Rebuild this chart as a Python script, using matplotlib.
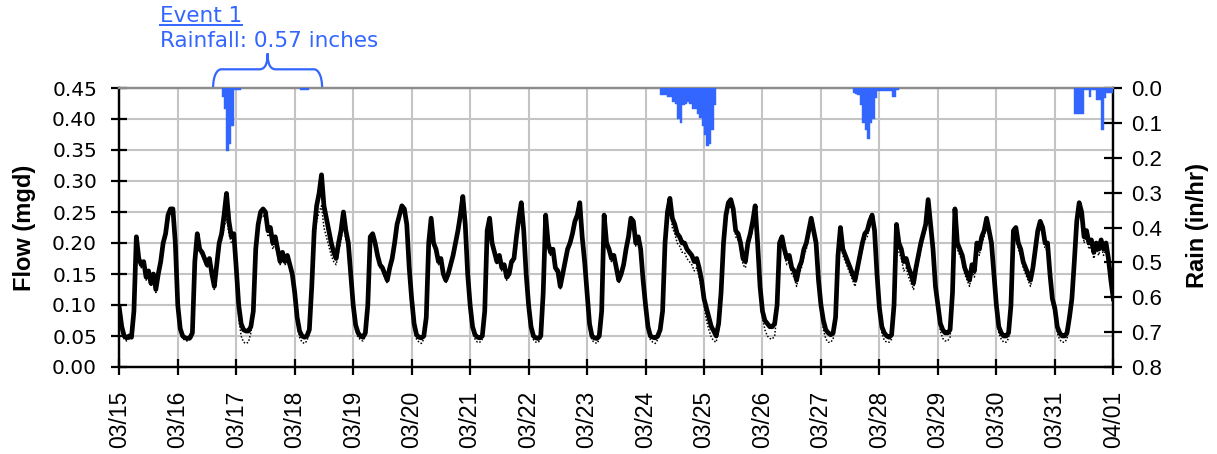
import matplotlib
matplotlib.use("Agg")
import matplotlib.pyplot as plt
import matplotlib.dates as mdates
import numpy as np
import pandas as pd
from matplotlib.path import Path
from matplotlib.patches import PathPatch
from matplotlib.lines import Line2D
from matplotlib import transforms

BLUE = "#3366ff"

period_start = "2021-03-15 00:00"
period_end = "2021-04-01 00:00"
day_labels = ["03/15", "03/16", "03/17", "03/18", "03/19", "03/20", "03/21",
              "03/22", "03/23", "03/24", "03/25", "03/26", "03/27", "03/28",
              "03/29", "03/30", "03/31", "04/01"]

# Hourly metered flow (mgd), one row per day, hours 0..23
flow_metered = [
    [0.095, 0.065, 0.05, 0.047, 0.05, 0.048, 0.09, 0.21, 0.175, 0.165, 0.17, 0.145, 0.155, 0.135, 0.15, 0.125, 0.15, 0.17, 0.2, 0.215, 0.245, 0.255, 0.255, 0.2],      # 03/15
    [0.1, 0.062, 0.05, 0.047, 0.046, 0.047, 0.055, 0.17, 0.215, 0.19, 0.185, 0.175, 0.165, 0.175, 0.15, 0.13, 0.165, 0.2, 0.215, 0.245, 0.28, 0.235, 0.21, 0.215],      # 03/16
    [0.16, 0.1, 0.07, 0.06, 0.058, 0.058, 0.065, 0.09, 0.19, 0.23, 0.25, 0.255, 0.25, 0.22, 0.225, 0.2, 0.21, 0.19, 0.17, 0.185, 0.17, 0.18, 0.165, 0.15],            # 03/17
    [0.12, 0.08, 0.058, 0.05, 0.048, 0.05, 0.06, 0.13, 0.22, 0.26, 0.28, 0.31, 0.26, 0.24, 0.22, 0.2, 0.185, 0.175, 0.2, 0.22, 0.25, 0.22, 0.2, 0.15],               # 03/18
    [0.1, 0.068, 0.055, 0.05, 0.048, 0.055, 0.1, 0.21, 0.215, 0.2, 0.18, 0.165, 0.16, 0.15, 0.14, 0.16, 0.175, 0.2, 0.23, 0.245, 0.26, 0.255, 0.23, 0.16],            # 03/19
    [0.11, 0.07, 0.052, 0.048, 0.047, 0.05, 0.08, 0.2, 0.24, 0.2, 0.19, 0.17, 0.175, 0.15, 0.14, 0.15, 0.165, 0.18, 0.2, 0.22, 0.245, 0.275, 0.23, 0.15],             # 03/20
    [0.1, 0.065, 0.052, 0.048, 0.047, 0.05, 0.09, 0.22, 0.24, 0.2, 0.185, 0.17, 0.18, 0.16, 0.165, 0.145, 0.15, 0.17, 0.175, 0.21, 0.24, 0.265, 0.22, 0.15],          # 03/21
    [0.1, 0.065, 0.05, 0.047, 0.046, 0.05, 0.12, 0.245, 0.2, 0.185, 0.19, 0.16, 0.155, 0.13, 0.15, 0.17, 0.19, 0.2, 0.215, 0.235, 0.245, 0.265, 0.21, 0.17],         # 03/22
    [0.12, 0.07, 0.05, 0.047, 0.046, 0.05, 0.09, 0.245, 0.2, 0.19, 0.175, 0.18, 0.16, 0.14, 0.15, 0.165, 0.19, 0.21, 0.24, 0.235, 0.2, 0.21, 0.19, 0.14],            # 03/23
    [0.1, 0.065, 0.05, 0.048, 0.047, 0.05, 0.06, 0.09, 0.2, 0.25, 0.272, 0.24, 0.23, 0.215, 0.21, 0.2, 0.2, 0.19, 0.185, 0.18, 0.17, 0.175, 0.16, 0.14],             # 03/24
    [0.11, 0.095, 0.08, 0.065, 0.058, 0.05, 0.07, 0.12, 0.2, 0.245, 0.265, 0.27, 0.255, 0.22, 0.215, 0.2, 0.175, 0.17, 0.2, 0.215, 0.235, 0.26, 0.2, 0.13],          # 03/25
    [0.09, 0.075, 0.07, 0.065, 0.065, 0.07, 0.1, 0.2, 0.21, 0.19, 0.175, 0.18, 0.16, 0.155, 0.14, 0.16, 0.17, 0.19, 0.2, 0.22, 0.24, 0.22, 0.2, 0.14],               # 03/26
    [0.1, 0.075, 0.06, 0.055, 0.052, 0.055, 0.08, 0.18, 0.225, 0.19, 0.18, 0.17, 0.16, 0.15, 0.14, 0.16, 0.18, 0.2, 0.215, 0.22, 0.235, 0.245, 0.22, 0.15],          # 03/27
    [0.095, 0.065, 0.055, 0.05, 0.048, 0.052, 0.1, 0.23, 0.2, 0.19, 0.17, 0.175, 0.16, 0.15, 0.135, 0.16, 0.18, 0.2, 0.215, 0.23, 0.27, 0.23, 0.19, 0.13],           # 03/28
    [0.1, 0.07, 0.06, 0.055, 0.055, 0.06, 0.12, 0.255, 0.2, 0.19, 0.18, 0.16, 0.15, 0.14, 0.165, 0.155, 0.2, 0.19, 0.21, 0.22, 0.24, 0.22, 0.2, 0.15],              # 03/29
    [0.1, 0.065, 0.055, 0.05, 0.05, 0.055, 0.1, 0.22, 0.225, 0.2, 0.19, 0.17, 0.16, 0.15, 0.14, 0.16, 0.19, 0.22, 0.235, 0.225, 0.2, 0.2, 0.15, 0.11],               # 03/30
    [0.095, 0.065, 0.055, 0.05, 0.05, 0.055, 0.08, 0.11, 0.17, 0.235, 0.265, 0.25, 0.21, 0.22, 0.2, 0.205, 0.185, 0.2, 0.19, 0.205, 0.19, 0.2, 0.175, 0.14],        # 03/31
]
flow_metered_final = 0.11   # 04/01 00:00

# Hourly dry-weather (baseline) flow (mgd), one row per day
flow_baseline = [
    [0.09, 0.06, 0.045, 0.042, 0.045, 0.045, 0.085, 0.2, 0.17, 0.16, 0.165, 0.14, 0.15, 0.13, 0.145, 0.12, 0.145, 0.165, 0.195, 0.21, 0.235, 0.25, 0.245, 0.19],
    [0.095, 0.058, 0.046, 0.043, 0.042, 0.044, 0.05, 0.165, 0.21, 0.185, 0.18, 0.17, 0.16, 0.17, 0.145, 0.125, 0.16, 0.195, 0.205, 0.225, 0.24, 0.215, 0.2, 0.2],
    [0.14, 0.08, 0.05, 0.04, 0.038, 0.04, 0.055, 0.085, 0.18, 0.22, 0.24, 0.245, 0.24, 0.21, 0.215, 0.19, 0.2, 0.18, 0.165, 0.175, 0.165, 0.17, 0.16, 0.14],
    [0.11, 0.07, 0.048, 0.04, 0.038, 0.042, 0.055, 0.12, 0.2, 0.235, 0.25, 0.26, 0.225, 0.21, 0.195, 0.18, 0.17, 0.165, 0.185, 0.205, 0.23, 0.205, 0.19, 0.14],
    [0.095, 0.06, 0.048, 0.044, 0.042, 0.05, 0.095, 0.205, 0.21, 0.195, 0.175, 0.16, 0.155, 0.145, 0.135, 0.155, 0.17, 0.195, 0.225, 0.24, 0.255, 0.25, 0.225, 0.15],
    [0.1, 0.06, 0.045, 0.04, 0.038, 0.045, 0.075, 0.195, 0.235, 0.195, 0.185, 0.165, 0.17, 0.145, 0.135, 0.145, 0.16, 0.175, 0.195, 0.215, 0.24, 0.265, 0.225, 0.14],
    [0.095, 0.058, 0.045, 0.04, 0.04, 0.045, 0.085, 0.215, 0.235, 0.195, 0.18, 0.165, 0.175, 0.155, 0.16, 0.14, 0.145, 0.165, 0.17, 0.205, 0.235, 0.26, 0.215, 0.145],
    [0.095, 0.058, 0.044, 0.04, 0.04, 0.045, 0.115, 0.24, 0.195, 0.18, 0.185, 0.155, 0.15, 0.125, 0.145, 0.165, 0.185, 0.195, 0.21, 0.23, 0.24, 0.26, 0.205, 0.165],
    [0.11, 0.06, 0.043, 0.04, 0.038, 0.044, 0.085, 0.24, 0.195, 0.185, 0.17, 0.175, 0.155, 0.135, 0.145, 0.16, 0.185, 0.205, 0.235, 0.23, 0.195, 0.205, 0.185, 0.135],
    [0.09, 0.058, 0.044, 0.04, 0.038, 0.044, 0.055, 0.085, 0.19, 0.24, 0.26, 0.225, 0.215, 0.2, 0.195, 0.185, 0.185, 0.175, 0.17, 0.165, 0.155, 0.16, 0.145, 0.125],
    [0.1, 0.075, 0.06, 0.048, 0.042, 0.04, 0.06, 0.11, 0.19, 0.235, 0.255, 0.26, 0.245, 0.21, 0.205, 0.19, 0.165, 0.16, 0.19, 0.205, 0.225, 0.25, 0.19, 0.12],
    [0.08, 0.06, 0.05, 0.046, 0.045, 0.05, 0.09, 0.19, 0.2, 0.18, 0.165, 0.17, 0.15, 0.145, 0.13, 0.15, 0.16, 0.18, 0.19, 0.21, 0.23, 0.21, 0.19, 0.13],
    [0.09, 0.06, 0.045, 0.04, 0.04, 0.045, 0.075, 0.17, 0.215, 0.18, 0.17, 0.16, 0.15, 0.14, 0.13, 0.15, 0.17, 0.19, 0.205, 0.21, 0.225, 0.235, 0.21, 0.14],
    [0.085, 0.055, 0.043, 0.04, 0.04, 0.045, 0.09, 0.22, 0.185, 0.175, 0.155, 0.16, 0.145, 0.135, 0.125, 0.15, 0.17, 0.19, 0.205, 0.22, 0.26, 0.22, 0.18, 0.12],
    [0.09, 0.058, 0.046, 0.042, 0.042, 0.048, 0.11, 0.245, 0.19, 0.18, 0.17, 0.15, 0.14, 0.13, 0.155, 0.145, 0.19, 0.18, 0.2, 0.21, 0.23, 0.21, 0.19, 0.14],
    [0.09, 0.055, 0.045, 0.04, 0.04, 0.046, 0.09, 0.21, 0.215, 0.19, 0.18, 0.16, 0.15, 0.14, 0.13, 0.15, 0.18, 0.21, 0.225, 0.215, 0.19, 0.19, 0.14, 0.1],
    [0.085, 0.055, 0.044, 0.04, 0.04, 0.045, 0.07, 0.1, 0.16, 0.225, 0.255, 0.24, 0.2, 0.21, 0.19, 0.195, 0.175, 0.19, 0.18, 0.195, 0.18, 0.19, 0.165, 0.13],
]
flow_baseline_final = 0.10

# Hourly rainfall intensity (in/hr), one block per storm
rain_a_start = "2021-03-16 18:00"
rain_a = [0.025, 0.06, 0.18, 0.16, 0.11, 0.005, 0.005, 0.005]
rain_b_start = "2021-03-18 02:00"
rain_b = [0.005, 0.005, 0.005, 0.005]
rain_c_start = "2021-03-24 06:00"
rain_c = [0.02, 0.02, 0.02, 0.025, 0.025, 0.04, 0.045, 0.09, 0.1, 0.05, 0.045, 0.04,
          0.045, 0.06, 0.06, 0.075, 0.085, 0.11, 0.135, 0.165, 0.16, 0.12, 0.05]
rain_d_start = "2021-03-27 13:00"
rain_d = [0.015, 0.017, 0.02, 0.05, 0.1, 0.12, 0.145, 0.1, 0.09, 0.03, 0.01, 0.01,
          0.01, 0.008, 0.01, 0.01, 0.025, 0.025, 0.005]
rain_e_start = "2021-03-31 08:00"
rain_e = [0.075, 0.075, 0.075, 0.075, 0.005, 0.005, 0.025, 0.005, 0.005, 0.035,
          0.035, 0.12, 0.03, 0.015, 0.015, 0.015]

# ---------------------------------------------------------------------------
t0 = pd.Timestamp(period_start)
t1 = pd.Timestamp(period_end)
n_days = len(flow_metered)
times = pd.date_range(t0, periods=n_days * 24 + 1, freq="h")
metered = np.concatenate([np.array(r) for r in flow_metered] + [[flow_metered_final]])
baseline = np.concatenate([np.array(r) for r in flow_baseline] + [[flow_baseline_final]])

W, H = 1217, 454
fig = plt.figure(figsize=(W / 100, H / 100), dpi=100)
x0, x1, ytop, ybot = 119.3, 1113.3, 88, 367
ax = fig.add_axes([x0 / W, 1 - ybot / H, (x1 - x0) / W, (ybot - ytop) / H])

ax.plot(times, metered, color="black", lw=3.4, solid_joinstyle="round", zorder=3)
ax.plot(times, baseline, color="black", lw=1.1, linestyle=(0, (1, 1.2)), zorder=4)

ax.set_xlim(t0, t1)
ax.set_ylim(0, 0.45)
day_ticks = pd.date_range(t0, t1, freq="D")
ax.set_xticks(day_ticks)
ax.set_xticklabels(day_labels, rotation=90, fontsize=16.5, family="Liberation Sans")
ax.set_yticks(np.arange(0, 0.4501, 0.05))
ax.yaxis.set_major_formatter(matplotlib.ticker.FormatStrFormatter("%.2f"))
for lab in ax.get_yticklabels():
    lab.set_fontsize(14.5)
    lab.set_family("DejaVu Sans")
ax.grid(True, color="#c4c4c4", lw=1.5)
ax.set_axisbelow(True)
ax.tick_params(axis="y", direction="inout", length=12, width=1.6, pad=10)
ax.tick_params(axis="x", direction="inout", length=12, width=1.6, pad=11)

# Rainfall hyetograph hanging from the top on an inverted secondary axis
ax2 = ax.twinx()
for start, rates in [(rain_a_start, rain_a), (rain_b_start, rain_b),
                     (rain_c_start, rain_c), (rain_d_start, rain_d),
                     (rain_e_start, rain_e)]:
    bt = pd.date_range(pd.Timestamp(start), periods=len(rates), freq="h")
    ax2.bar(bt, rates, width=1 / 24, align="edge", color=BLUE, edgecolor=BLUE,
            linewidth=0.3, zorder=3)
ax2.set_ylim(0.8, 0)
ax2.set_yticks(np.arange(0, 0.801, 0.1))
ax2.yaxis.set_major_formatter(matplotlib.ticker.FormatStrFormatter("%.1f"))
for lab in ax2.get_yticklabels():
    lab.set_fontsize(16)
    lab.set_family("Liberation Sans")
ax2.tick_params(axis="y", direction="inout", length=13, width=1.6, pad=6)
ax2.set_xlim(t0, t1)

for a in (ax, ax2):
    a.spines["top"].set_color("#8c8c8c")
    a.spines["top"].set_linewidth(1.6)
    for s in ("left", "right", "bottom"):
        a.spines[s].set_color("black")
        a.spines[s].set_linewidth(1.6)

fig.text(25 / W, 1 - 227.5 / H, "Flow (mgd)", rotation=90, ha="center", va="center",
         fontsize=17, fontweight="bold", family="Liberation Sans")
fig.text(1197.5 / W, 1 - 226 / H, "Rain (in/hr)", rotation=90, ha="center", va="center",
         fontsize=17, fontweight="bold", family="Liberation Sans")

# Storm annotation
event_total = sum(rain_a) + sum(rain_b)
t_ev = fig.text(160 / W, 1 - 21.7 / H, "Event 1", fontsize=15.5, color=BLUE,
                family="DejaVu Sans", ha="left", va="baseline")
fig.text(160 / W, 1 - 46.7 / H, f"Rainfall: {event_total:.2f} inches", fontsize=15.5,
         color=BLUE, family="DejaVu Sans", ha="left", va="baseline")
fig.canvas.draw()
bb = t_ev.get_window_extent()
uy = 1 - 25.3 / H
fig.add_artist(Line2D([bb.x0 / W, bb.x1 / W], [uy, uy], transform=fig.transFigure,
                      color=BLUE, lw=1.4))

# Curly brace over the storm period
trans = transforms.blended_transform_factory(ax.transData, ax.transAxes)
xl = mdates.date2num(pd.Timestamp("2021-03-16 14:30"))
xr = mdates.date2num(pd.Timestamp("2021-03-18 11:15"))
xm = (xl + xr) / 2
d = 0.07
yb, yh, yt = 1.0, 1.067, 1.124
verts = [(xl, yb), (xl, yb + 0.045), (xl + d, yh), (xl + 2 * d, yh),
         (xm - 2 * d, yh),
         (xm - d, yh), (xm, yh + 0.01), (xm, yt),
         (xm, yh + 0.01), (xm + d, yh), (xm + 2 * d, yh),
         (xr - 2 * d, yh),
         (xr - d, yh), (xr, yb + 0.045), (xr, yb)]
codes = [Path.MOVETO, Path.CURVE4, Path.CURVE4, Path.CURVE4,
         Path.LINETO,
         Path.CURVE4, Path.CURVE4, Path.CURVE4,
         Path.CURVE4, Path.CURVE4, Path.CURVE4,
         Path.LINETO,
         Path.CURVE4, Path.CURVE4, Path.CURVE4]
ax2.add_patch(PathPatch(Path(verts, codes), transform=trans, facecolor="none",
                        edgecolor=BLUE, lw=1.6, clip_on=False))

fig.savefig("out.png", dpi=100)
